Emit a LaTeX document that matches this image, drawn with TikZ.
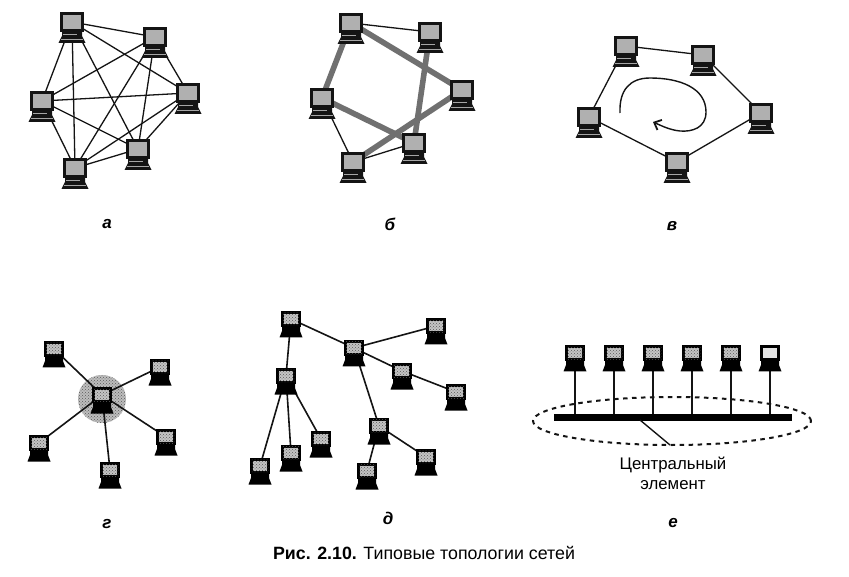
\documentclass[tikz,border=0pt]{standalone}
\usepackage{fontspec}
\setmainfont{Liberation Sans}
\usetikzlibrary{shapes.geometric,arrows.meta,backgrounds,patterns}
\definecolor{ink}{HTML}{141414}
\definecolor{scrA}{HTML}{B0B0B0}
\definecolor{scrB}{HTML}{C4C4C4}
\definecolor{scrL}{HTML}{E4E4E4}
\definecolor{ringc}{HTML}{707070}
\definecolor{hubc}{HTML}{BDBDBD}
\tikzset{
  x=1pt,y=-1pt,
  monA/.style={draw=ink,line width=2.4pt,fill=scrA,rectangle,inner sep=0pt,minimum width=21pt,minimum height=17pt},
  monB/.style={draw=black,line width=3pt,fill=scrB,rectangle,inner sep=0pt,minimum width=16.5pt,minimum height=13pt},
  noisy/.style={postaction={pattern=crosshatch dots,pattern color=black!65}},
  thinl/.style={draw=ink,line width=1.3pt},
  thickl/.style={draw=ringc,line width=5.6pt},
  treel/.style={draw=ink,line width=1.6pt},
  letterlab/.style={font=\fontsize{17}{19}\selectfont\bfseries\itshape,inner sep=0pt},
  pics/basea/.style={code={
    \fill[ink] (-10,9)--(10,9)--(10,14)--(13.5,21)--(-13.5,21)--(-10,14)--cycle;
    \draw[gray!70,line width=.5pt] (-9,12.5)--(5,12.5);
    \draw[gray!70,line width=.4pt] (-11,17)--(11,17);
  }},
  pics/baseb/.style={code={
    \fill[black] (-9,7)--(9,7)--(9,12)--(11.5,18.5)--(-11.5,18.5)--(-9,12)--cycle;
  }},
}
\newcommand\pcA[2]{\node[monA] (#1) at (#2) {}; \path (#1.center) pic {basea};}
\newcommand\pcB[2]{\node[monB,noisy] (#1) at (#2) {}; \path (#1.center) pic {baseb};}
\begin{document}
\begin{tikzpicture}
\useasboundingbox (0,0) rectangle (849,577);
% panel a
\pcA{a1}{72,22}\pcA{a2}{155,37}\pcA{a3}{188,93}\pcA{a4}{138,149}\pcA{a5}{75,168}\pcA{a6}{42,101}
% panel b
\pcA{b1}{351,23}\pcA{b2}{430,32}\pcA{b3}{462,90}\pcA{b4}{414,143}\pcA{b5}{353,162}\pcA{b6}{322,98}
% panel c
\pcA{c1}{626,46}\pcA{c2}{703,55}\pcA{c3}{761,113}\pcA{c4}{677,162}\pcA{c5}{589,117}
% panel g
\pcB{g0}{102,395}\pcB{g1}{54,349}\pcB{g2}{160,367}\pcB{g3}{166,437}\pcB{g4}{110,470}\pcB{g5}{39,443}
% panel d
\pcB{d1}{291,319}\pcB{d2}{354,348}\pcB{d3}{436,326}\pcB{d4}{402,371}\pcB{d5}{456,392}\pcB{d6}{379,426}
\pcB{d7}{426,457}\pcB{d8}{367,471}\pcB{d9}{286,376}\pcB{d10}{321,439}\pcB{d11}{291,453}\pcB{d12}{260,466}
% panel e
\pcB{e1}{575,353}\pcB{e2}{614,353}\pcB{e3}{653,353}\pcB{e4}{692,353}\pcB{e5}{731,353}
\node[monB,fill=scrL] (e6) at (770,353) {}; \path (e6.center) pic {baseb};
\node[rectangle,fill=black,inner sep=0pt,minimum width=238pt,minimum height=7pt] (bar) at (673,417.5) {};
\node[ellipse,draw=ink,line width=2pt,dash pattern=on 4.5pt off 4.5pt,inner sep=0pt,minimum width=278pt,minimum height=48pt] (ell) at (672,421) {};
\node[align=center,inner sep=0pt,font=\fontsize{16.8}{20}\selectfont] (txt) at (673,473) {Центральный\\элемент};
\coordinate (barpt) at (640,420);
\coordinate (txtpt) at (670,445);
\begin{scope}[on background layer]
  \fill[white] (0,0) rectangle (849,577);
  \node[circle,fill=hubc,noisy,inner sep=0pt,minimum size=48pt] (hub) at (102,399) {};
  \foreach \p/\q in {a1/a2,a1/a3,a1/a4,a1/a5,a1/a6,a2/a3,a2/a4,a2/a5,a2/a6,a3/a4,a3/a5,a3/a6,a4/a5,a4/a6,a5/a6,
    b1/b2,b6/b5,b5/b4,c1/c2,c2/c3,c3/c4,c4/c5,c5/c1}
    \draw[thinl] (\p.center) -- (\q.center);
  \foreach \p/\q in {b1/b3,b1/b6,b2/b4,b3/b5,b6/b4}
    \draw[thickl] (\p.center) -- (\q.center);
  \foreach \q in {g1,g2,g3,g4,g5}
    \draw[treel] (g0.center) -- (\q.center);
  \foreach \p/\q in {d1/d2,d1/d9,d2/d3,d2/d4,d4/d5,d2/d6,d6/d7,d6/d8,d9/d12,d9/d11,d9/d10}
    \draw[treel] (\p.center) -- (\q.center);
  \foreach \p in {e1,e2,e3,e4,e5,e6}
    \draw[treel] (\p.center) -- (\p |- bar.north);
\end{scope}
\draw[ink,line width=1.4pt] (barpt) -- (txtpt);
\draw[ink,line width=1.4pt,-{Straight Barb[length=6pt,width=11pt,line width=1.8pt]}]
  (620,113) .. controls (619,90) and (630,78) .. (650,78)
  .. controls (680,78) and (706,88) .. (706,112)
  .. controls (706,128) and (692,132) .. (680,131)
  .. controls (670,130) and (662,126) .. (653,122);
% letters
\node[letterlab] (la) at (107,224) {а};
\node[letterlab] (lb) at (390,224) {б};
\node[letterlab] (lc) at (672,226) {в};
\node[letterlab] (ld) at (107,524) {г};
\node[letterlab] (le) at (388,518) {д};
\node[letterlab] (lf) at (673,523) {е};
\node[inner sep=0pt,font=\fontsize{17.8}{20}\selectfont] (caption) at (424,553) {\textbf{Рис. 2.10.} Типовые топологии сетей};
\end{tikzpicture}
\end{document}
